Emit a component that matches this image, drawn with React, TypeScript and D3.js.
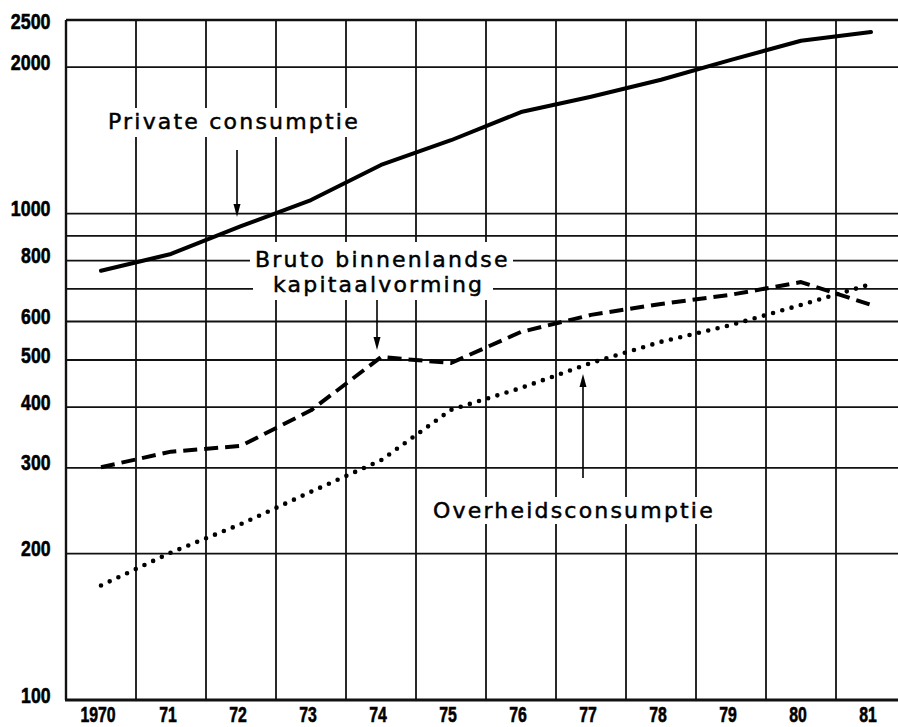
import { useMemo } from 'react'
import * as d3 from 'd3'

const YEARS = ['1970', '71', '72', '73', '74', '75', '76', '77', '78', '79', '80', '81']
const PRIVATE = [763, 826, 942, 1066, 1259, 1415, 1617, 1739, 1884, 2070, 2266, 2361]
const KAPITAAL = [301, 324, 333, 394, 507, 493, 571, 619, 652, 681, 723, 649]
const OVERHEID = [172, 201, 230, 268, 311, 395, 438, 493, 545, 590, 649, 716]
const GRID_VALUES = [200, 300, 400, 500, 600, 700, 800, 900, 1000, 2000]
const TICK_VALUES = [100, 200, 300, 400, 500, 600, 800, 1000, 2000, 2500]

const W = 898
const H = 727
const LEFT = 66
const RIGHT = 906
const TOP = 20
const BOTTOM = 700

const LABEL_FONT = '"DejaVu Sans", sans-serif'
const NUM_FONT = '"Liberation Sans", Arial, sans-serif'

// white patches behind the labels that break the grid
const MASKS = [
  { x: 100, y: 108, w: 272, h: 29 },
  { x: 250, y: 242, w: 263, h: 33 },
  { x: 253, y: 275, w: 240, h: 25 },
  { x: 425, y: 497, w: 290, h: 27 }
]

const LABELS = [
  { text: 'Private consumptie', x: 108, y: 129 },
  { text: 'Bruto binnenlandse', x: 255, y: 267 },
  { text: 'kapitaalvorming', x: 273, y: 292 },
  { text: 'Overheidsconsumptie', x: 433, y: 518 }
]

const ARROWS = [
  { x: 237, from: 150, to: 217 },
  { x: 377, from: 300, to: 350 },
  { x: 583, from: 478, to: 374 }
]

export default function App() {
  const x = useMemo(() => d3.scaleBand().domain(YEARS).range([LEFT, RIGHT]).padding(0), [])
  const y = useMemo(() => d3.scaleLog().domain([100, 2500]).range([BOTTOM, TOP]), [])
  const cx = (yr: string) => (x(yr) as number) + x.bandwidth() / 2

  const line = d3.line<number>()
    .x((_, i) => cx(YEARS[i]))
    .y(d => y(d))
    .curve(d3.curveLinear)

  const arrowHead = (a: { x: number; from: number; to: number }) => {
    const dir = a.to > a.from ? 1 : -1
    const base = a.to - dir * 13
    return `M${a.x},${a.to} L${a.x - 3.5},${base} L${a.x + 3.5},${base} Z`
  }

  return (
    <div style={{ position: 'fixed', left: 0, top: 0 }}>
      <svg width={W} height={H} style={{ display: 'block', background: '#fff' }}>
        {/* horizontal grid */}
        {GRID_VALUES.map(v => (
          <line key={`h-${v}`} x1={LEFT} x2={RIGHT} y1={y(v)} y2={y(v)} stroke="#111" strokeWidth={1.8} />
        ))}
        {/* vertical grid at year boundaries */}
        {YEARS.slice(1).map(yr => (
          <line key={`v-${yr}`} x1={x(yr)} x2={x(yr)} y1={TOP} y2={BOTTOM} stroke="#111" strokeWidth={1.8} />
        ))}
        {/* frame */}
        <line x1={LEFT} x2={RIGHT} y1={TOP} y2={TOP} stroke="#111" strokeWidth={2.4} />
        <line x1={LEFT} x2={LEFT} y1={TOP} y2={BOTTOM} stroke="#111" strokeWidth={2.4} />
        <line x1={LEFT - 1} x2={RIGHT} y1={BOTTOM} y2={BOTTOM} stroke="#111" strokeWidth={3} />

        {MASKS.map((m, i) => (
          <rect key={`m-${i}`} x={m.x} y={m.y} width={m.w} height={m.h} fill="#fff" />
        ))}

        {/* series */}
        <path d={line(PRIVATE) || ''} fill="none" stroke="#000" strokeWidth={4}
          strokeLinecap="round" strokeLinejoin="round" />
        <path d={line(KAPITAAL) || ''} fill="none" stroke="#000" strokeWidth={4}
          strokeDasharray="14 7" strokeLinejoin="round" />
        <path d={line(OVERHEID) || ''} fill="none" stroke="#000" strokeWidth={4.6}
          strokeDasharray="0 9.6" strokeLinecap="round" />

        {/* annotations */}
        {LABELS.map(l => (
          <text key={l.text} x={l.x} y={l.y} fontFamily={LABEL_FONT} fontSize={22}
            letterSpacing={2.2} fill="#000" stroke="#000" strokeWidth={0.5}>{l.text}</text>
        ))}
        {ARROWS.map((a, i) => (
          <g key={`a-${i}`}>
            <line x1={a.x} x2={a.x} y1={a.from} y2={a.to - (a.to > a.from ? 8 : -8)} stroke="#000" strokeWidth={1.6} />
            <path d={arrowHead(a)} fill="#000" />
          </g>
        ))}

        {/* y tick labels */}
        {TICK_VALUES.map(v => {
          const s = String(v)
          return (
            <text key={`t-${v}`} x={52 - s.length * 10.3} y={y(v) + (v === 2500 ? 1 : -5)}
              dominantBaseline="central" fontFamily={NUM_FONT} fontWeight="bold" fontSize={22}
              textLength={s.length * 10.3 - 1.5} lengthAdjust="spacingAndGlyphs" fill="#000"
              stroke="#000" strokeWidth={0.6}>{s}</text>
          )
        })}
        {/* x tick labels */}
        {YEARS.map(yr => {
          const len = yr.length * 8.8
          return (
            <text key={`x-${yr}`} x={cx(yr) - 3 - len / 2} y={722} fontFamily={NUM_FONT}
              fontWeight="bold" fontSize={22} textLength={len} lengthAdjust="spacingAndGlyphs"
              fill="#000" stroke="#000" strokeWidth={0.6}>{yr}</text>
          )
        })}
      </svg>
    </div>
  )
}
